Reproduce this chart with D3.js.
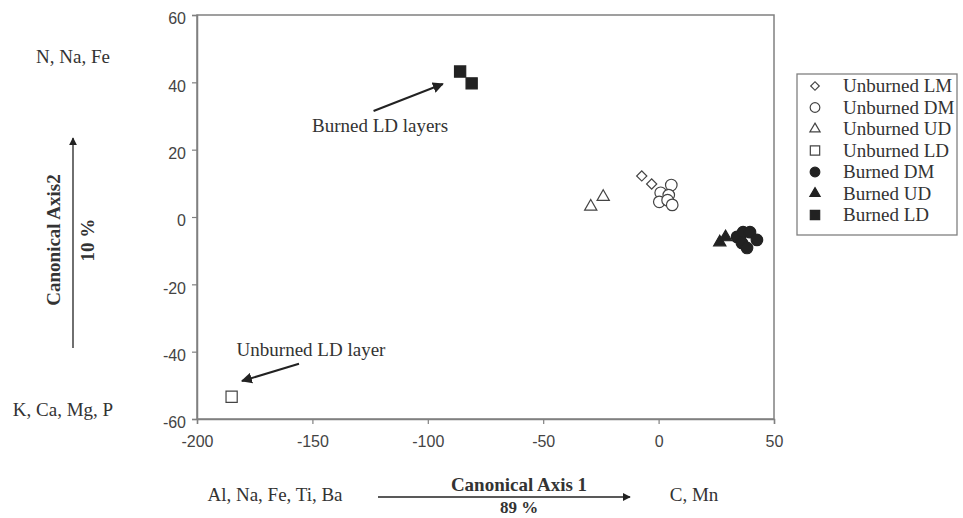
<!DOCTYPE html>
<html>
<head>
<meta charset="utf-8">
<script src="https://d3js.org/d3.v7.min.js"></script>
<title>Canonical axes</title>
<style>
body { margin: 0; background: #fff; }
#root { width: 963px; height: 518px; display: block; }
.tick text { font-family: "Liberation Sans", Arial, sans-serif; font-size: 16px; fill: #444; }
.serif { font-family: "Liberation Serif", "Times New Roman", serif; fill: #333; }
</style>
</head>
<body>
<svg id="root"></svg>
<script>
// data
let xTicks = [-200, -150, -100, -50, 0, 50]
let yTicks = [-60, -40, -20, 0, 20, 40, 60]

let unburnedLM = [[-7.3, 12.2], [-3.0, 9.8]]
let unburnedDM = [[5.5, 9.5], [0.9, 7.2], [4.4, 6.5], [0.3, 4.5], [3.9, 5.0], [5.9, 3.6]]
let unburnedUD = [[-29.4, 3.1], [-24.0, 6.0]]
let unburnedLD = [[-185.0, -53.4]]
let burnedDM = [[34.0, -5.9], [36.6, -4.5], [39.6, -4.5], [42.6, -6.8], [36.1, -7.7], [38.3, -9.2]]
let burnedUD = [[26.5, -7.5], [29.0, -6.0]]
let burnedLD = [[-86.0, 43.2], [-81.0, 39.7]]

let seriesNames = ['Unburned LM', 'Unburned DM', 'Unburned UD', 'Unburned LD', 'Burned DM', 'Burned UD', 'Burned LD']

let dark = '#222'

let series = [
	{ name: seriesNames[0], pts: unburnedLM, shape: 'diamond', filled: false },
	{ name: seriesNames[1], pts: unburnedDM, shape: 'circle', filled: false },
	{ name: seriesNames[2], pts: unburnedUD, shape: 'triangle', filled: false },
	{ name: seriesNames[3], pts: unburnedLD, shape: 'square', filled: false },
	{ name: seriesNames[4], pts: burnedDM, shape: 'circle', filled: true },
	{ name: seriesNames[5], pts: burnedUD, shape: 'triangle', filled: true },
	{ name: seriesNames[6], pts: burnedLD, shape: 'square', filled: true }
]

let svg = d3.select('#root')

let x = d3.scaleLinear().domain([-200, 50]).range([197, 774])
let y = d3.scaleLinear().domain([-60, 60]).range([419, 15])

function symbolPath(shape, big)
{
	let k = big ? 1 : 0.7
	if (shape == 'circle') return d3.symbol(d3.symbolCircle, 105 * k)()
	if (shape == 'square') return d3.symbol(d3.symbolSquare, 125 * k)()
	if (shape == 'triangle') return d3.symbol(d3.symbolTriangle, 65 * k)()
	return d3.symbol(d3.symbolSquare, 52 * k)()
}

function drawSymbol(sel, s, big)
{
	sel.append('path')
		.attr('d', symbolPath(s.shape, big))
		.attr('transform', s.shape == 'diamond' ? 'rotate(45)' : null)
		.attr('fill', s.filled ? dark : '#fff')
		.attr('stroke', s.filled ? dark : '#444')
		.attr('stroke-width', 1.2)
}

// frame
svg.append('rect')
	.attr('x', x(-200)).attr('y', y(60))
	.attr('width', x(50) - x(-200)).attr('height', y(-60) - y(60))
	.attr('fill', 'none').attr('stroke', '#808080').attr('stroke-width', 1.5)

let fmt = d => String(d)
svg.append('g')
	.attr('transform', 'translate(0,' + y(-60) + ')')
	.call(d3.axisBottom(x).tickValues(xTicks).tickFormat(fmt).tickSize(5).tickPadding(12))
svg.append('g')
	.attr('transform', 'translate(' + x(-200) + ',0)')
	.call(d3.axisLeft(y).tickValues(yTicks).tickFormat(fmt).tickSize(5).tickPadding(6))
	.selectAll('.tick text').attr('dy', '0.55em')

svg.selectAll('.domain').attr('stroke', '#808080').attr('stroke-width', 1.5)
svg.selectAll('.tick line').attr('stroke', '#808080').attr('stroke-width', 1.2)

// points
series.forEach(s => {
	let g = svg.append('g')
	g.selectAll('g').data(s.pts).enter().append('g')
		.attr('transform', d => 'translate(' + x(d[0]) + ',' + y(d[1]) + ')')
		.each(function() { drawSymbol(d3.select(this), s, true) })
})

// arrows
let defs = svg.append('defs')
defs.append('marker')
	.attr('id', 'head').attr('viewBox', '0 0 10 10')
	.attr('refX', 9).attr('refY', 5)
	.attr('markerWidth', 8).attr('markerHeight', 8)
	.attr('markerUnits', 'userSpaceOnUse')
	.attr('orient', 'auto')
	.append('path').attr('d', 'M0,0 L10,5 L0,10 z').attr('fill', dark)

defs.append('marker')
	.attr('id', 'head2').attr('viewBox', '0 0 10 10')
	.attr('refX', 9).attr('refY', 5)
	.attr('markerWidth', 11).attr('markerHeight', 11)
	.attr('markerUnits', 'userSpaceOnUse')
	.attr('orient', 'auto')
	.append('path').attr('d', 'M0,0 L10,5 L0,10 z').attr('fill', dark)

let notes = [
	{ text: 'Burned LD layers', at: [-120.7, 25.3], from: [-123.5, 31.5], to: [-93.5, 39.5] },
	{ text: 'Unburned LD layer', at: [-150.6, -41.2], from: [-155.8, -43.6], to: [-180.5, -48.7] }
]

notes.forEach(n => {
	svg.append('line')
		.attr('x1', x(n.from[0])).attr('y1', y(n.from[1]))
		.attr('x2', x(n.to[0])).attr('y2', y(n.to[1]))
		.attr('stroke', dark).attr('stroke-width', 2)
		.attr('marker-end', 'url(#head2)')
	svg.append('text').attr('class', 'serif')
		.attr('x', x(n.at[0])).attr('y', y(n.at[1]))
		.attr('text-anchor', 'middle').attr('font-size', 19)
		.text(n.text)
})

// axis titles
svg.append('text').attr('class', 'serif').attr('x', 275).attr('y', 501)
	.attr('text-anchor', 'middle').attr('font-size', 19).text('Al, Na, Fe, Ti, Ba')
svg.append('text').attr('class', 'serif').attr('x', 694).attr('y', 501)
	.attr('text-anchor', 'middle').attr('font-size', 19).text('C, Mn')
svg.append('line').attr('x1', 378).attr('y1', 497).attr('x2', 630).attr('y2', 497)
	.attr('stroke', dark).attr('stroke-width', 1.3).attr('marker-end', 'url(#head)')
svg.append('text').attr('class', 'serif').attr('x', 519).attr('y', 491)
	.attr('text-anchor', 'middle').attr('font-size', 19).attr('font-weight', 'bold').text('Canonical Axis 1')
svg.append('text').attr('class', 'serif').attr('x', 519).attr('y', 513)
	.attr('text-anchor', 'middle').attr('font-size', 17).attr('font-weight', 'bold').text('89 %')

svg.append('text').attr('class', 'serif').attr('x', 73).attr('y', 63)
	.attr('text-anchor', 'middle').attr('font-size', 19).text('N, Na, Fe')
svg.append('text').attr('class', 'serif').attr('x', 63).attr('y', 416)
	.attr('text-anchor', 'middle').attr('font-size', 19).text('K, Ca, Mg, P')
svg.append('line').attr('x1', 73).attr('y1', 348).attr('x2', 73).attr('y2', 138)
	.attr('stroke', dark).attr('stroke-width', 1.3).attr('marker-end', 'url(#head)')
svg.append('text').attr('class', 'serif')
	.attr('transform', 'translate(60,240) rotate(-90)')
	.attr('text-anchor', 'middle').attr('font-size', 19).attr('font-weight', 'bold').text('Canonical Axis2')
svg.append('text').attr('class', 'serif')
	.attr('transform', 'translate(94,240) rotate(-90)')
	.attr('text-anchor', 'middle').attr('font-size', 19).attr('font-weight', 'bold').text('10 %')

// legend
let legend = svg.append('g')
legend.append('rect').attr('x', 797).attr('y', 74).attr('width', 160).attr('height', 161)
	.attr('fill', '#fff').attr('stroke', '#808080').attr('stroke-width', 1.3)

let rows = legend.selectAll('.row').data(series).enter().append('g')
	.attr('class', 'row')
	.attr('transform', (d, i) => 'translate(815,' + (86 + i * 21.5) + ')')
rows.each(function(d) { drawSymbol(d3.select(this), d, false) })
rows.append('text').attr('class', 'serif').attr('x', 28).attr('y', 6)
	.attr('font-size', 19).text(d => d.name)
</script>
</body>
</html>
